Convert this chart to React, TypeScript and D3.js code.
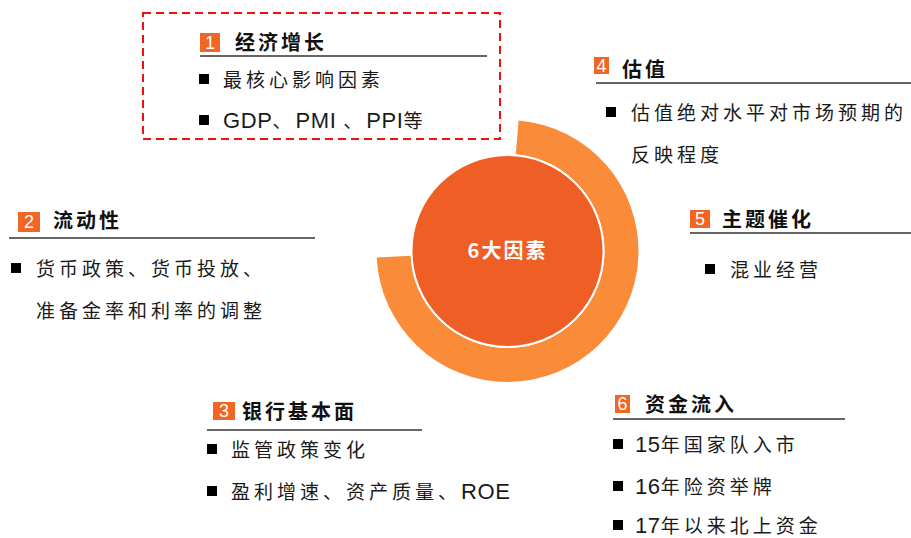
import React from 'react';
import * as d3 from 'd3';

const W = 911;
const H = 538;

// ---- content ----
const numbers = ['1', '2', '3', '4', '5', '6'];
const titles = ['经济增长', '流动性', '银行基本面', '估值', '主题催化', '资金流入'];
const items: string[][][] = [
  [['最核心影响因素'], ['GDP、PMI 、PPI等']],
  [['货币政策、货币投放、', '准备金率和利率的调整']],
  [['监管政策变化'], ['盈利增速、资产质量、ROE']],
  [['估值绝对水平对市场预期的', '反映程度']],
  [['混业经营']],
  [['15年国家队入市'], ['16年险资举牌'], ['17年以来北上资金']],
];
const centerLabel = '6大因素';

// ---- layout ----
type Layout = {
  box: [number, number, number, number];
  titleX: number; titleY: number;
  line: [number, number, number];
  bulletX: number; textX: number; baselines: number[];
};
const layouts: Layout[] = [
  { box: [200, 33, 20, 19], titleX: 235, titleY: 50, line: [200, 487, 56], bulletX: 199, textX: 223, baselines: [87, 128] },
  { box: [18, 212, 22, 20], titleX: 53, titleY: 228, line: [9, 315, 238], bulletX: 11, textX: 36, baselines: [276, 318] },
  { box: [213, 402, 22, 18], titleX: 242, titleY: 419, line: [207, 422, 430], bulletX: 207, textX: 231, baselines: [457, 499] },
  { box: [594, 57, 15, 17], titleX: 622, titleY: 77, line: [596, 911, 83], bulletX: 606, textX: 631, baselines: [120, 162] },
  { box: [690, 210, 20, 18], titleX: 722, titleY: 227, line: [690, 911, 233], bulletX: 705, textX: 730, baselines: [277] },
  { box: [615, 395, 15, 18], titleX: 645, titleY: 412, line: [613, 845, 419], bulletX: 613, textX: 635, baselines: [452, 494, 533] },
];

const cx = 507.5;
const cy = 251;
const innerR = 96;
const ringInner = 97;
const ringOuter = 131;

const ORANGE_DARK = '#EF5E24';
const ORANGE_RING = '#FA8B39';
const NUM_BOX = '#F26522';
const CJK = '"Noto Sans CJK SC", sans-serif';
const LAT = '"Liberation Sans", Arial, sans-serif';

function runs(s: string) {
  return s.match(/[A-Za-z0-9 ]+|[^A-Za-z0-9 ]+/g) || [];
}

function MixedText({ x, y, text }: { x: number; y: number; text: string }) {
  return (
    <text x={x} y={y} fill="#1a1a1a">
      {runs(text).map((r, i) => {
        const latin = /^[A-Za-z0-9 ]+$/.test(r);
        return (
          <tspan
            key={i}
            fontFamily={latin ? LAT : CJK}
            fontSize={latin ? 22 : 19}
            letterSpacing={latin ? 0.6 : 4}
            style={{ whiteSpace: 'pre' }}
          >
            {r}
          </tspan>
        );
      })}
    </text>
  );
}

export default function App() {
  const ringArc = d3
    .arc<any>()
    .innerRadius(ringInner)
    .outerRadius(ringOuter)
    .startAngle(0.085)
    .endAngle(Math.PI * 1.5 - 0.05);

  return (
    <svg
      width={W}
      height={H}
      viewBox={`0 0 ${W} ${H}`}
      style={{ position: 'absolute', left: 0, top: 0, display: 'block', background: '#fff' }}
    >
      {/* dashed highlight box */}
      <rect x={143} y={13} width={357} height={126} fill="none" stroke="#F01010" strokeWidth={2} strokeDasharray="8 5" />

      {/* central graphic */}
      <g transform={`translate(${cx},${cy})`}>
        <path d={ringArc(null) || ''} fill={ORANGE_RING} />
        <circle r={innerR} fill={ORANGE_DARK} stroke="#fff" strokeWidth={2} />
        <text
          y={0}
          dy="0.35em"
          textAnchor="middle"
          fill="#fff"
          fontFamily={CJK}
          fontWeight={700}
          fontSize={20}
          letterSpacing={2}
        >
          {centerLabel}
        </text>
      </g>

      {layouts.map((L, i) => {
        const [bx, by, bw, bh] = L.box;
        let lineIdx = 0;
        return (
          <g key={i}>
            <rect x={bx} y={by} width={bw} height={bh} fill={NUM_BOX} />
            <text
              x={bx + bw / 2}
              y={by + bh / 2}
              dy="0.36em"
              textAnchor="middle"
              fill="#fff"
              fontFamily={LAT}
              fontSize={18}
            >
              {numbers[i]}
            </text>
            <text x={L.titleX} y={L.titleY} fill="#111" fontFamily={CJK} fontWeight={700} fontSize={20} letterSpacing={3}>
              {titles[i]}
            </text>
            <line x1={L.line[0]} x2={L.line[1]} y1={L.line[2]} y2={L.line[2]} stroke="#333" strokeWidth={1.5} />
            {items[i].map((item, j) =>
              item.map((ln, k) => {
                const y = L.baselines[lineIdx++];
                return (
                  <g key={`${j}-${k}`}>
                    {k === 0 && <rect x={L.bulletX} y={y - 13} width={10} height={10} fill="#000" />}
                    <MixedText x={L.textX} y={y} text={ln} />
                  </g>
                );
              })
            )}
          </g>
        );
      })}
    </svg>
  );
}
